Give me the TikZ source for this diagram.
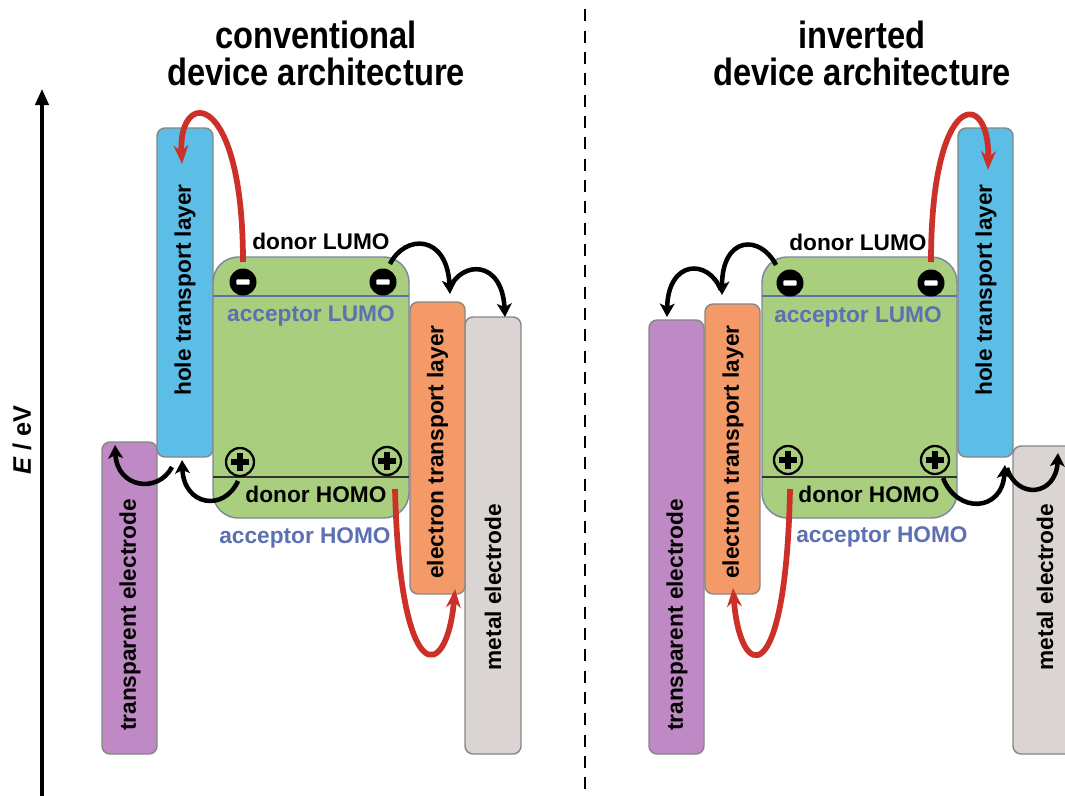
\documentclass[tikz,border=0pt]{standalone}
\usepackage{fontspec}
\setmainfont{Liberation Sans}
\newfontfamily\titlefont[FakeStretch=0.86]{Liberation Sans}
\usetikzlibrary{arrows.meta}
\definecolor{htlblue}{RGB}{92,190,230}
\definecolor{tepurple}{RGB}{190,137,196}
\definecolor{etlorange}{RGB}{244,154,104}
\definecolor{metalgray}{RGB}{218,212,210}
\definecolor{actgreen}{RGB}{168,206,126}
\definecolor{boxgray}{RGB}{135,135,135}
\definecolor{greenborder}{RGB}{125,135,160}
\definecolor{accblue}{RGB}{92,112,178}
\definecolor{arrred}{RGB}{204,48,40}
\tikzset{
  layer/.style={draw=boxgray, line width=1.1pt, rounded corners=6pt, inner sep=0pt, outer sep=0pt},
  active/.style={draw=greenborder, fill=actgreen, line width=1.1pt, rounded corners=19pt, inner sep=0pt, outer sep=0pt,
     minimum width=196*0.75pt, minimum height=261*0.75pt},
  lbl/.style={font=\bfseries\fontsize{17}{20}\selectfont, inner sep=0pt},
  vlbl/.style={lbl, rotate=90},
  acclbl/.style={lbl, text=accblue},
  ttl/.style={font=\titlefont\bfseries\fontsize{28.5}{30}\selectfont, inner sep=0pt},
  minuscirc/.style={circle, fill=black, minimum size=27*0.75pt, inner sep=0pt,
     path picture={\fill[white, rounded corners=0.8pt] ([xshift=-5pt,yshift=-2pt]path picture bounding box.center) rectangle ([xshift=5pt,yshift=2pt]path picture bounding box.center);}},
  pluscirc/.style={circle, draw=black, line width=1.7pt, minimum size=28*0.75pt, inner sep=0pt,
     path picture={\draw[line width=3.8pt] ([xshift=-7pt]path picture bounding box.center) -- ([xshift=7pt]path picture bounding box.center);
                   \draw[line width=3.8pt] ([yshift=-7pt]path picture bounding box.center) -- ([yshift=7pt]path picture bounding box.center);}},
  redarr/.style={draw=arrred, line width=4.3pt, -{Stealth[length=14pt,width=11pt,inset=4.5pt]}},
  blkarr/.style={draw=black, line width=3.4pt, -{Stealth[length=10pt,width=11pt,inset=2.5pt]}},
  levelline/.style={line width=1.2pt}
}
\begin{document}
\begin{tikzpicture}[x=0.75pt,y=-0.75pt]
\clip (0,0) rectangle (1065,796);
\fill[white] (0,0) rectangle (1065,796);

% axis and divider
\coordinate (ax0) at (42,800);
\coordinate (ax1) at (42,89);
\draw[line width=2.4pt, -{Triangle[length=12pt,width=10pt]}] (ax0) -- (ax1);
\node[rotate=90, font=\bfseries\fontsize{19}{22}\selectfont, inner sep=0pt] (elab) at (22,440) {\itshape E\upshape{} / eV};
\coordinate (dv0) at (585,0);
\coordinate (dv1) at (585,796);
\draw[line width=1.6pt, dash pattern=on 9pt off 7pt, dash phase=-7pt] (dv0) -- (dv1);

% titles
\node[ttl] (t1a) at (316,35) {conventional};
\node[ttl] (t1b) at (316,72) {device architecture};
\node[ttl] (t2a) at (862,35) {inverted};
\node[ttl] (t2b) at (862,72) {device architecture};

% ================= left: conventional =================
\node[layer, fill=tepurple, minimum width=55*0.75pt, minimum height=312*0.75pt] (teL) at (129.5,598) {};
\node[layer, fill=metalgray, minimum width=56*0.75pt, minimum height=437*0.75pt] (meL) at (493,535.5) {};
\node[layer, fill=htlblue, minimum width=56*0.75pt, minimum height=329*0.75pt] (htlL) at (185,292.5) {};
\node[layer, fill=etlorange, minimum width=55*0.75pt, minimum height=292*0.75pt] (etlL) at (437.5,448) {};
\node[active] (gL) at (311,387.5) {};
\draw[levelline, draw=accblue] ([yshift=-29.25pt]gL.north west) -- ([yshift=-29.25pt]gL.north east);
\draw[levelline, draw=black!80] ([yshift=30.75pt]gL.south west) -- ([yshift=30.75pt]gL.south east);

\node[vlbl] (htlLt) at (185,290) {hole transport layer};
\node[vlbl] (teLt) at (130,615) {transparent electrode};
\node[vlbl] (etlLt) at (437.5,452) {electron transport layer};
\node[vlbl] (meLt) at (493,587) {metal electrode};

\node[lbl] (dlL) at (321,241) {donor LUMO};
\node[acclbl] (alL) at (311,316) {acceptor LUMO};
\node[lbl] (dhL) at (316,494) {donor HOMO};
\node[acclbl] (ahL) at (305,538) {acceptor HOMO};

\node[minuscirc] (mL1) at (243,282) {};
\node[minuscirc] (mL2) at (383,282) {};
\node[pluscirc] (pL1) at (240,462) {};
\node[pluscirc] (pL2) at (387,461) {};

\coordinate (rL1s) at (243,262);
\coordinate (rL1e) at (182,164);
\draw[redarr] (rL1s) .. controls (243,88) and (178,88) .. (rL1e);
\coordinate (rL2s) at (395,489);
\coordinate (rL2e) at (455,589);
\draw[redarr] (rL2s) .. controls (400,692) and (447,682) .. (rL2e);

\coordinate (bL1s) at (390,264);
\coordinate (bL1e) at (450,294);
\draw[blkarr] (bL1s) .. controls (405,234) and (447,234) .. (bL1e);
\coordinate (bL2s) at (449,289);
\coordinate (bL2e) at (505,317);
\draw[blkarr] (bL2s) .. controls (462,260) and (502,260) .. (bL2e);
\coordinate (bL3s) at (238,481);
\coordinate (bL3e) at (182,460);
\draw[blkarr] (bL3s) .. controls (224,512) and (184,506) .. (bL3e);
\coordinate (bL4s) at (172,467);
\coordinate (bL4e) at (115,445);
\draw[blkarr] (bL4s) .. controls (158,494) and (117,488) .. (bL4e);

% ================= right: inverted =================
\node[layer, fill=tepurple, minimum width=55*0.75pt, minimum height=434*0.75pt] (teR) at (676.5,537) {};
\node[layer, fill=metalgray, minimum width=62*0.75pt, minimum height=308*0.75pt] (meR) at (1044,600) {};
\node[layer, fill=htlblue, minimum width=55*0.75pt, minimum height=329*0.75pt] (htlR) at (985.5,292.5) {};
\node[layer, fill=etlorange, minimum width=55*0.75pt, minimum height=290*0.75pt] (etlR) at (732.5,449) {};
\node[active, minimum width=195*0.75pt] (gR) at (859.5,387.5) {};
\draw[levelline, draw=accblue] ([yshift=-29.25pt]gR.north west) -- ([yshift=-29.25pt]gR.north east);
\draw[levelline, draw=black!80] ([yshift=30.75pt]gR.south west) -- ([yshift=30.75pt]gR.south east);

\node[vlbl] (htlRt) at (986,290) {hole transport layer};
\node[vlbl] (teRt) at (677,615) {transparent electrode};
\node[vlbl] (etlRt) at (733,452) {electron transport layer};
\node[vlbl] (meRt) at (1045,587) {metal electrode};

\node[lbl] (dlR) at (858,242) {donor LUMO};
\node[acclbl] (alR) at (858,317) {acceptor LUMO};
\node[lbl] (dhR) at (869,494) {donor HOMO};
\node[acclbl] (ahR) at (882,537) {acceptor HOMO};

\node[minuscirc] (mR1) at (790,283) {};
\node[minuscirc] (mR2) at (931,283) {};
\node[pluscirc] (pR1) at (788,460) {};
\node[pluscirc] (pR2) at (935,460) {};

\coordinate (rR1s) at (931,262);
\coordinate (rR1e) at (988,170);
\draw[redarr] (rR1s) .. controls (931,88) and (990,88) .. (rR1e);
\coordinate (rR2s) at (790,489);
\coordinate (rR2e) at (733,588);
\draw[redarr] (rR2s) .. controls (786,694) and (740,682) .. (rR2e);

\coordinate (bR1s) at (776,265);
\coordinate (bR1e) at (722,295);
\draw[blkarr] (bR1s) .. controls (760,234) and (722,236) .. (bR1e);
\coordinate (bR2s) at (721,290);
\coordinate (bR2e) at (667,317);
\draw[blkarr] (bR2s) .. controls (708,258) and (668,260) .. (bR2e);
\coordinate (bR3s) at (943,478);
\coordinate (bR3e) at (1005,465);
\draw[blkarr] (bR3s) .. controls (957,514) and (1002,512) .. (bR3e);
\coordinate (bR4s) at (1007,468);
\coordinate (bR4e) at (1058,453);
\draw[blkarr] (bR4s) .. controls (1017,500) and (1056,496) .. (bR4e);
\end{tikzpicture}
\end{document}
